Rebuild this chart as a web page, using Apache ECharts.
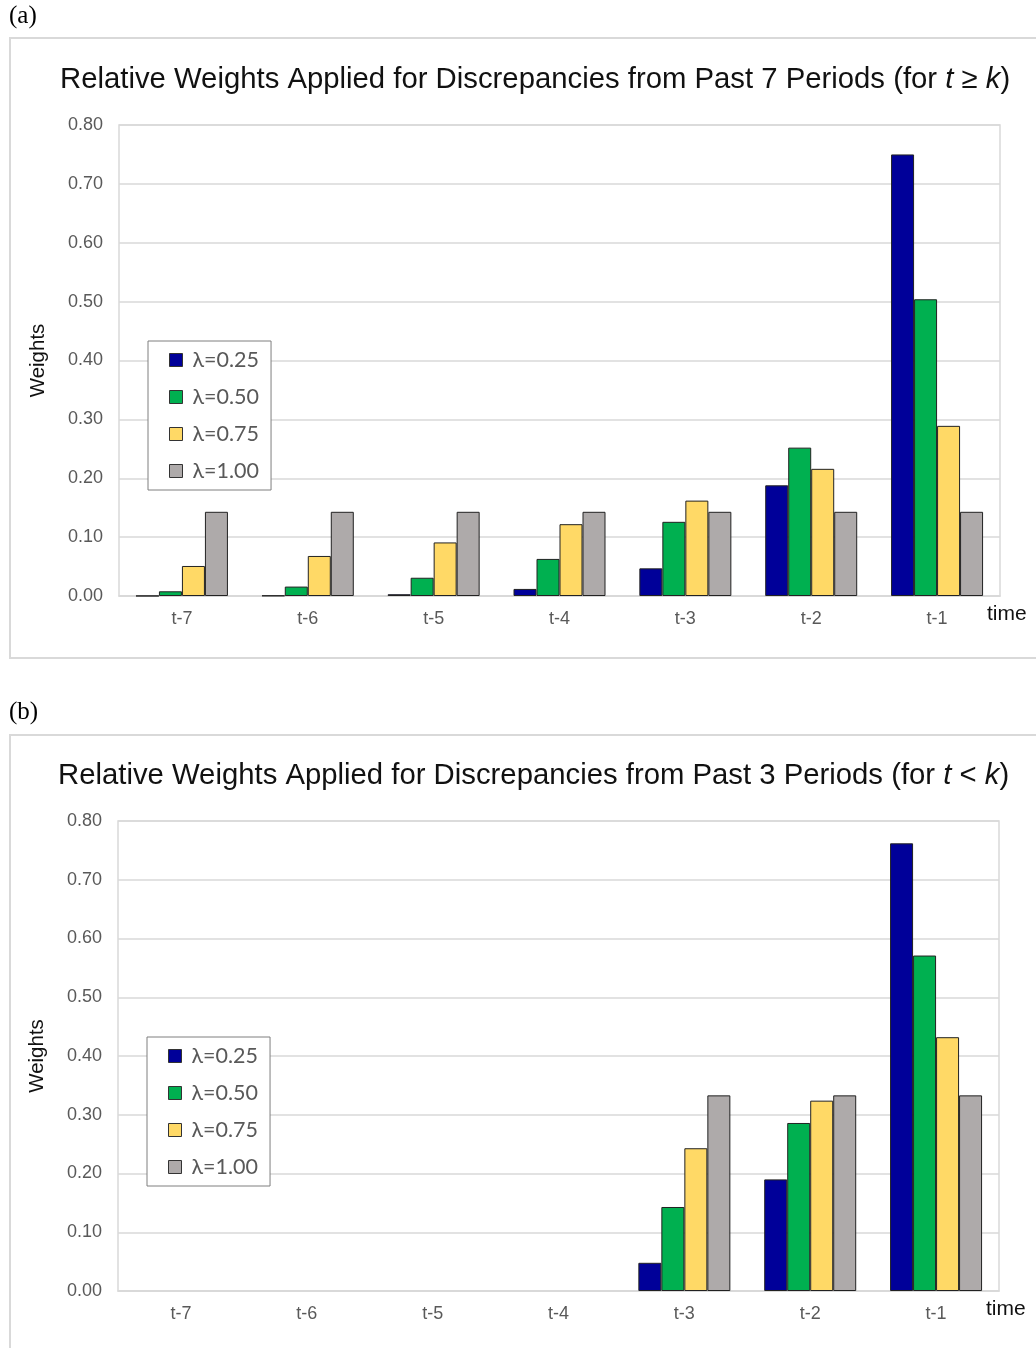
<html>
<head>
  <meta charset="utf-8" />
  <script src="https://cdn.jsdelivr.net/npm/echarts@6/dist/echarts.min.js"></script>
  <style>
    html, body { margin: 0; padding: 0; background: #fff; }
    #chart { width: 1036px; height: 1348px; }
  </style>
</head>
<body>
  <div id="chart"></div>
  <script>
    // categories and series
    var periods = ['t-7', 't-6', 't-5', 't-4', 't-3', 't-2', 't-1'];
    var seriesNames = ['λ=0.25', 'λ=0.50', 'λ=0.75', 'λ=1.00'];
    var yTicks = [0, 0.8, 0.1]; // min, max, step

    // panel (a): past 7 periods
    var a025 = [0.0002, 0.0007, 0.003, 0.012, 0.047, 0.188, 0.750];
    var a050 = [0.008, 0.016, 0.031, 0.063, 0.126, 0.252, 0.504];
    var a075 = [0.051, 0.068, 0.091, 0.122, 0.162, 0.216, 0.289];
    var a100 = [0.143, 0.143, 0.143, 0.143, 0.143, 0.143, 0.143];

    // panel (b): past 3 periods
    var b025 = [null, null, null, null, 0.048, 0.190, 0.762];
    var b050 = [null, null, null, null, 0.143, 0.286, 0.571];
    var b075 = [null, null, null, null, 0.243, 0.324, 0.432];
    var b100 = [null, null, null, null, 0.333, 0.333, 0.333];

    var colors = ['#000099', '#00b050', '#ffd966', '#aeaaaa'];
    var gridLine = '#d9d9d9';
    var labelGray = '#595959';

    var myChart = echarts.init(document.getElementById('chart'));

    var titleRich = {
      i: { fontStyle: 'italic', fontSize: 29.3, fontFamily: 'Liberation Sans', color: '#111' }
    };

    function xAxisFor(gi) {
      return {
        type: 'category',
        gridIndex: gi,
        data: periods,
        axisTick: { show: false },
        axisLine: { lineStyle: { color: gridLine, width: 1.5 } },
        axisLabel: { color: labelGray, fontSize: 18, fontFamily: 'Liberation Sans', margin: 14 },
        name: 'time',
        nameLocation: 'end',
        nameGap: -13,
        nameTextStyle: { color: '#111', fontSize: 21, fontFamily: 'Liberation Sans', verticalAlign: 'top', padding: [8, 0, 0, 0] }
      };
    }

    function yAxisFor(gi) {
      return {
        type: 'value',
        gridIndex: gi,
        min: yTicks[0],
        max: yTicks[1],
        interval: yTicks[2],
        axisLine: { show: false },
        axisTick: { show: false },
        splitLine: { lineStyle: { color: gridLine, width: 1.5 } },
        axisLabel: {
          color: labelGray, fontSize: 18, fontFamily: 'Liberation Sans', margin: 16,
          formatter: function (v) { return v.toFixed(2); }
        },
        name: 'Weights',
        nameLocation: 'middle',
        nameRotate: 90,
        nameGap: 70,
        nameTextStyle: { color: '#111', fontSize: 20.5, fontFamily: 'Liberation Sans' }
      };
    }

    function barsFor(gi, lists) {
      return lists.map(function (d, k) {
        return {
          name: seriesNames[k],
          type: 'bar',
          xAxisIndex: gi,
          yAxisIndex: gi,
          data: d,
          barWidth: 23,
          barGap: '0%',
          itemStyle: { color: colors[k], borderColor: '#222', borderWidth: 1 }
        };
      });
    }

    function legendFor(left, top) {
      return {
        orient: 'vertical',
        left: left,
        top: top,
        data: seriesNames,
        icon: 'rect',
        itemWidth: 13,
        itemHeight: 13,
        itemGap: 15,
        selectedMode: false,
        backgroundColor: '#fff',
        borderColor: '#7f7f7f',
        borderWidth: 1,
        borderRadius: 0,
        padding: [8, 12, 8, 21],
        itemStyle: { borderColor: '#333', borderWidth: 1 },
        textStyle: { color: labelGray, fontSize: 21.5, fontFamily: 'Lato', padding: [0, 0, 0, 5] }
      };
    }

    var option = {
      animation: false,
      backgroundColor: '#fff',
      title: [
        {
          text: 'Relative Weights Applied for Discrepancies from Past 7 Periods (for {i|t} ≥ {i|k})',
          left: 60, top: 65, padding: 0,
          textStyle: { fontSize: 29.3, fontWeight: 'normal', fontFamily: 'Liberation Sans', color: '#111', rich: titleRich }
        },
        {
          text: 'Relative Weights Applied for Discrepancies from Past 3 Periods (for {i|t} < {i|k})',
          left: 58, top: 761, padding: 0,
          textStyle: { fontSize: 29.3, fontWeight: 'normal', fontFamily: 'Liberation Sans', color: '#111', rich: titleRich }
        }
      ],
      legend: [legendFor(148, 341), legendFor(147, 1037)],
      grid: [
        { left: 119, right: 36, top: 125, height: 471, show: true, borderColor: gridLine, borderWidth: 1.5, outerBoundsMode: 'none', containLabel: false },
        { left: 118, right: 37, top: 821, height: 470, show: true, borderColor: gridLine, borderWidth: 1.5, outerBoundsMode: 'none', containLabel: false }
      ],
      xAxis: [xAxisFor(0), xAxisFor(1)],
      yAxis: [yAxisFor(0), yAxisFor(1)],
      series: barsFor(0, [a025, a050, a075, a100]).concat(barsFor(1, [b025, b050, b075, b100])),
      graphic: [
        { type: 'rect', shape: { x: 10, y: 38, width: 1040, height: 620 }, style: { fill: 'none', stroke: gridLine, lineWidth: 2 }, z: -1 },
        { type: 'rect', shape: { x: 10, y: 735, width: 1040, height: 630 }, style: { fill: 'none', stroke: gridLine, lineWidth: 2 }, z: -1 },
        { type: 'text', left: 9, top: 4, style: { text: '(a)', fontSize: 25, fontFamily: 'Liberation Serif', fill: '#000' } },
        { type: 'text', left: 9, top: 700, style: { text: '(b)', fontSize: 25, fontFamily: 'Liberation Serif', fill: '#000' } }
      ]
    };

    myChart.setOption(option);
  </script>
</body>
</html>
